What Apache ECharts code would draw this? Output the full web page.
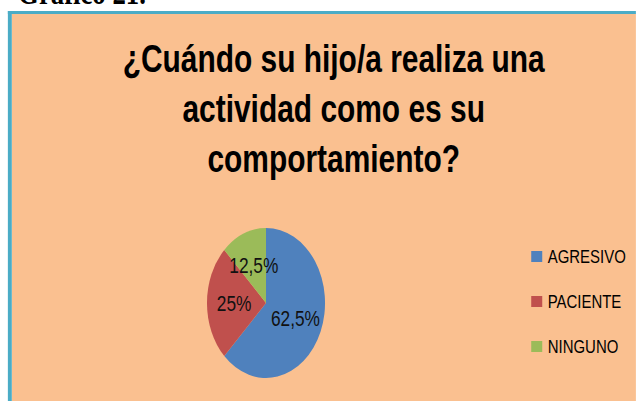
<!DOCTYPE html>
<html>
<head>
<meta charset="utf-8">
<script src="https://cdn.jsdelivr.net/npm/echarts@6/dist/echarts.min.js"></script>
<style>
  html, body { margin: 0; padding: 0; background: #fff; overflow: hidden; }
  /* the original picture is squeezed sideways, so the chart is drawn wider and squeezed back */
  #main { width: 808px; height: 401px; transform: scaleX(0.787); transform-origin: 0 0; }
</style>
</head>
<body>
<div id="main"></div>
<script>
var categories = ['AGRESIVO', 'PACIENTE', 'NINGUNO'];
var percents = [62.5, 25, 12.5];
var colors = ['#4F81BD', '#C0504D', '#9BBB59'];
var titleText = '¿Cuándo su hijo/a realiza una\nactividad como es su\ncomportamiento?';

var W = 808;

var chart = echarts.init(document.getElementById('main'), null, { renderer: 'svg' });

var pieData = categories.map(function (c, i) {
  return { name: c, value: percents[i], itemStyle: { color: colors[i] } };
});

var option = {
  animation: false,
  backgroundColor: '#ffffff',
  graphic: [
    { type: 'rect', shape: { x: 15, y: 14, width: W - 15, height: 401 - 14 }, style: { fill: '#FAC090' }, z: -10 },
    { type: 'rect', shape: { x: 10, y: 11, width: W - 10, height: 3 }, style: { fill: '#4BACC6' }, z: -9 },
    { type: 'rect', shape: { x: 10, y: 11, width: 5, height: 390 }, style: { fill: '#4BACC6' }, z: -9 },
    {
      // caption above the box, cut off by the top edge as in the source
      type: 'text', x: 23, y: -7,
      style: {
        text: 'Gráfico 21.', font: 'bold 34px "Liberation Serif"', fill: '#000',
        verticalAlign: 'middle'
      }
    }
  ],
  title: {
    text: titleText,
    left: 419,
    top: 29,
    textAlign: 'center',
    textStyle: {
      fontFamily: 'Liberation Sans',
      fontWeight: 'bold',
      fontSize: 38,
      lineHeight: 50,
      color: '#000'
    }
  },
  legend: {
    orient: 'vertical',
    left: 670,
    top: 242,
    icon: 'rect',
    itemWidth: 14,
    itemHeight: 11,
    itemGap: 26,
    data: categories,
    textStyle: { fontFamily: 'Liberation Sans', fontSize: 19, color: '#000', padding: [0, 0, 0, 2] }
  },
  series: [{
    type: 'pie',
    center: [338, 303],
    radius: 75,
    startAngle: 90,
    clockwise: true,
    avoidLabelOverlap: false,
    itemStyle: { borderWidth: 0 },
    label: {
      show: true,
      position: 'inside',
      fontFamily: 'Liberation Sans',
      fontSize: 22,
      color: '#111',
      formatter: function (p) { return String(p.value).replace('.', ',') + '%'; }
    },
    labelLine: { show: false },
    emphasis: { disabled: true },
    data: pieData
  }]
};

chart.setOption(option);
</script>
</body>
</html>
